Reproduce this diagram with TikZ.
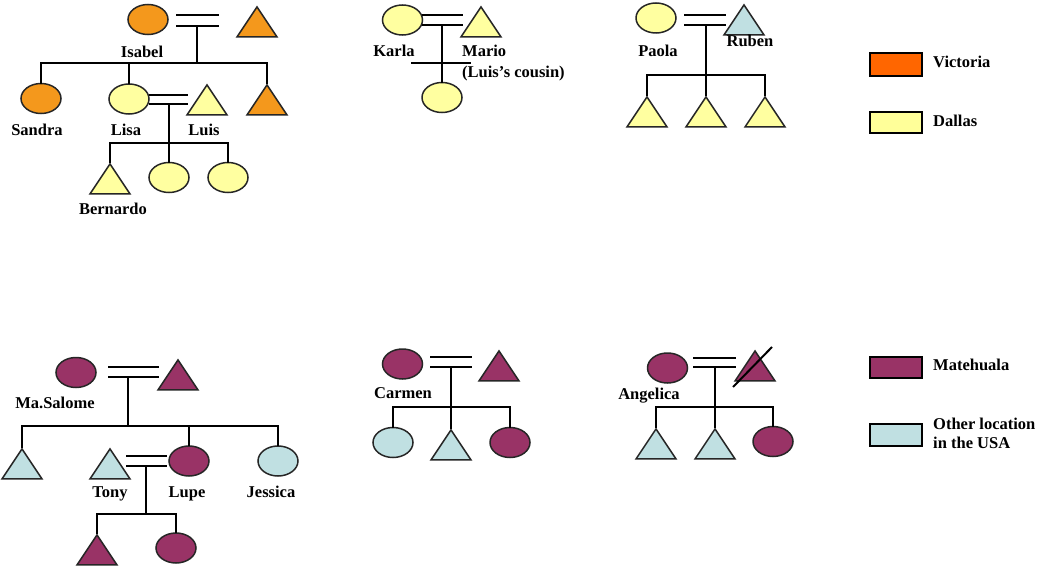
\documentclass[tikz,border=0pt]{standalone}
\usepackage{fontspec}
\setmainfont{Liberation Serif}
\usetikzlibrary{shapes.geometric}
\definecolor{orng}{RGB}{244,152,28}
\definecolor{yllw}{RGB}{255,255,160}
\definecolor{blu}{RGB}{192,224,226}
\definecolor{mrn}{RGB}{153,51,102}
\definecolor{legorng}{RGB}{255,102,0}
\definecolor{legyllw}{RGB}{255,255,153}
\tikzset{
  ell/.style={ellipse, draw=black!85, line width=1.5pt, minimum width=40, minimum height=30, inner sep=0pt},
  tri/.style={isosceles triangle, isosceles triangle stretches, shape border rotate=90, draw=black!85, line width=1.5pt, minimum width=40, minimum height=30, inner sep=0pt, anchor=apex},
  conn/.style={line width=2.4pt, line cap=rect},
  lbl/.style={font=\fontsize{16.5}{19}\selectfont\bfseries, inner sep=0pt, text height=11.5pt, text depth=3pt},
  legbox/.style={draw=black, line width=2pt},
}
\begin{document}
\begin{tikzpicture}[x=1pt,y=-1pt]
\useasboundingbox (0,0) rectangle (1043,567);
% ---------- Family 1 (Isabel)
\node[ell, fill=orng] (isabel) at (148,19.5) {};
\node[tri, fill=orng] (isabelh) at (257,5) {};
\coordinate (m1a) at (177,15); \coordinate (m1b) at (218,15);
\coordinate (m1c) at (177,26); \coordinate (m1d) at (218,26);
\coordinate (m1) at (197,26); \coordinate (j1) at (197,63);
\draw[conn] (m1a) -- (m1b); \draw[conn] (m1c) -- (m1d);
\draw[conn] (m1) -- (j1);
\node[ell, fill=orng] (sandra) at (41,98.5) {};
\node[ell, fill=yllw] (lisa) at (129,99) {};
\node[tri, fill=yllw] (luis) at (207,83) {};
\node[tri, fill=orng] (son1) at (267,83) {};
\draw[conn] (sandra.north) -- (sandra.north |- j1) -- (son1.apex |- j1) -- (son1.apex);
\draw[conn] (lisa.north) -- (lisa.north |- j1);
\coordinate (m2a) at (150,95); \coordinate (m2b) at (187,95);
\coordinate (m2c) at (150,104); \coordinate (m2d) at (187,104);
\coordinate (m2) at (169,104); \coordinate (j2) at (169,143);
\draw[conn] (m2a) -- (m2b); \draw[conn] (m2c) -- (m2d);
\draw[conn] (m2) -- (j2);
\node[tri, fill=yllw] (bernardo) at (110,162) {};
\node[ell, fill=yllw] (lc2) at (169,177.5) {};
\node[ell, fill=yllw] (lc3) at (228,177.5) {};
\draw[conn] (bernardo.apex) -- (bernardo.apex |- j2) -- (lc3.north |- j2) -- (lc3.north);
\draw[conn] (j2) -- (lc2.north);
\node[lbl] (lisabel) at (142,53) {Isabel};
\node[lbl] (lsandra) at (37,131) {Sandra};
\node[lbl] (llisa) at (126,131) {Lisa};
\node[lbl] (lluis) at (204,131) {Luis};
\node[lbl] (lbernardo) at (113,210) {Bernardo};
% ---------- Family 2 (Karla)
\node[ell, fill=yllw] (karla) at (402.5,20) {};
\node[tri, fill=yllw] (mario) at (481,5) {};
\coordinate (m3a) at (423,15); \coordinate (m3b) at (462,15);
\coordinate (m3c) at (423,25); \coordinate (m3d) at (462,25);
\coordinate (m3) at (442,25);
\draw[conn] (m3a) -- (m3b); \draw[conn] (m3c) -- (m3d);
\node[ell, fill=yllw] (kc1) at (442,97.5) {};
\draw[conn] (m3) -- (kc1.north);
\coordinate (h3a) at (412,63); \coordinate (h3b) at (470,63);
\draw[conn] (h3a) -- (h3b);
\node[lbl] (lkarla) at (394,52) {Karla};
\node[lbl, anchor=west] (lmario) at (462,52) {Mario};
\node[lbl, anchor=west] (lcousin) at (462,73) {(Luis’s cousin)};
% ---------- Family 3 (Paola)
\node[ell, fill=yllw] (paola) at (656,18) {};
\node[tri, fill=blu] (ruben) at (744,3) {};
\coordinate (m4a) at (685,15); \coordinate (m4b) at (725,15);
\coordinate (m4c) at (685,25); \coordinate (m4d) at (725,25);
\coordinate (m4) at (706,25); \coordinate (j4) at (706,75);
\draw[conn] (m4a) -- (m4b); \draw[conn] (m4c) -- (m4d);
\node[tri, fill=yllw] (pc1) at (647,95) {};
\node[tri, fill=yllw] (pc2) at (706,95) {};
\node[tri, fill=yllw] (pc3) at (765,95) {};
\draw[conn] (m4) -- (pc2.apex);
\draw[conn] (pc1.apex) -- (pc1.apex |- j4) -- (pc3.apex |- j4) -- (pc3.apex);
\node[lbl] (lpaola) at (658,52) {Paola};
\node[lbl] (lruben) at (750,42) {Ruben};
% ---------- Family 4 (Ma.Salome)
\node[ell, fill=mrn] (salome) at (76,372.5) {};
\node[tri, fill=mrn] (salomeh) at (178,358) {};
\coordinate (m5a) at (109,367); \coordinate (m5b) at (158,367);
\coordinate (m5c) at (109,377); \coordinate (m5d) at (158,377);
\coordinate (m5) at (128,377); \coordinate (j5) at (128,426);
\draw[conn] (m5a) -- (m5b); \draw[conn] (m5c) -- (m5d);
\draw[conn] (m5) -- (j5);
\node[tri, fill=blu] (sc1) at (22,447) {};
\node[tri, fill=blu] (tony) at (110,447) {};
\node[ell, fill=mrn] (lupe) at (189,461) {};
\node[ell, fill=blu] (jessica) at (278,461) {};
\draw[conn] (sc1.apex) -- (sc1.apex |- j5) -- (jessica.north |- j5) -- (jessica.north);
\draw[conn] (lupe.north) -- (lupe.north |- j5);
\coordinate (m6a) at (127,456); \coordinate (m6b) at (166,456);
\coordinate (m6c) at (127,466); \coordinate (m6d) at (166,466);
\coordinate (m6) at (146,466); \coordinate (j6) at (146,514);
\draw[conn] (m6a) -- (m6b); \draw[conn] (m6c) -- (m6d);
\draw[conn] (m6) -- (j6);
\node[tri, fill=mrn] (tc1) at (97,533) {};
\node[ell, fill=mrn] (tc2) at (176,548) {};
\draw[conn] (tc1.apex) -- (tc1.apex |- j6) -- (tc2.north |- j6) -- (tc2.north);
\node[lbl] (lsalome) at (55,404) {Ma.Salome};
\node[lbl] (ltony) at (110,493) {Tony};
\node[lbl] (llupe) at (187,493) {Lupe};
\node[lbl] (ljessica) at (271,493) {Jessica};
% ---------- Family 5 (Carmen)
\node[ell, fill=mrn] (carmen) at (402.5,364) {};
\node[tri, fill=mrn] (carmenh) at (499,349) {};
\coordinate (m7a) at (431,357); \coordinate (m7b) at (471,357);
\coordinate (m7c) at (431,367); \coordinate (m7d) at (471,367);
\coordinate (m7) at (451,367); \coordinate (j7) at (451,407);
\draw[conn] (m7a) -- (m7b); \draw[conn] (m7c) -- (m7d);
\node[ell, fill=blu] (cc1) at (393,442.5) {};
\node[tri, fill=blu] (cc2) at (451,428) {};
\node[ell, fill=mrn] (cc3) at (510,442.5) {};
\draw[conn] (m7) -- (cc2.apex);
\draw[conn] (cc1.north) -- (cc1.north |- j7) -- (cc3.north |- j7) -- (cc3.north);
\node[lbl] (lcarmen) at (403,394) {Carmen};
% ---------- Family 6 (Angelica)
\node[ell, fill=mrn] (angelica) at (667.5,368) {};
\node[tri, fill=mrn] (angelicah) at (755,349) {};
\coordinate (sl1) at (733,387); \coordinate (sl2) at (772,347);
\draw[conn, line width=2pt, line cap=butt] (sl1) -- (sl2);
\coordinate (m8a) at (694,358); \coordinate (m8b) at (735,358);
\coordinate (m8c) at (694,367); \coordinate (m8d) at (735,367);
\coordinate (m8) at (715,367); \coordinate (j8) at (715,407);
\draw[conn] (m8a) -- (m8b); \draw[conn] (m8c) -- (m8d);
\node[tri, fill=blu] (ac1) at (656,427) {};
\node[tri, fill=blu] (ac2) at (715,427) {};
\node[ell, fill=mrn] (ac3) at (773,441.5) {};
\draw[conn] (m8) -- (ac2.apex);
\draw[conn] (ac1.apex) -- (ac1.apex |- j8) -- (ac3.north |- j8) -- (ac3.north);
\node[lbl] (langelica) at (649,395) {Angelica};
% ---------- Legend
\draw[legbox, fill=legorng] (870,53) rectangle (922,76);
\node[lbl, anchor=west] (lvic) at (933,63) {Victoria};
\draw[legbox, fill=legyllw] (870,112) rectangle (922,133);
\node[lbl, anchor=west] (ldal) at (933,122) {Dallas};
\draw[legbox, fill=mrn] (870,357) rectangle (922,378);
\node[lbl, anchor=west] (lmat) at (933,366) {Matehuala};
\draw[legbox, fill=blu] (870,424) rectangle (922,446);
\node[lbl, anchor=west] (loth1) at (933,425) {Other location};
\node[lbl, anchor=west] (loth2) at (933,444) {in the USA};
\end{tikzpicture}
\end{document}
